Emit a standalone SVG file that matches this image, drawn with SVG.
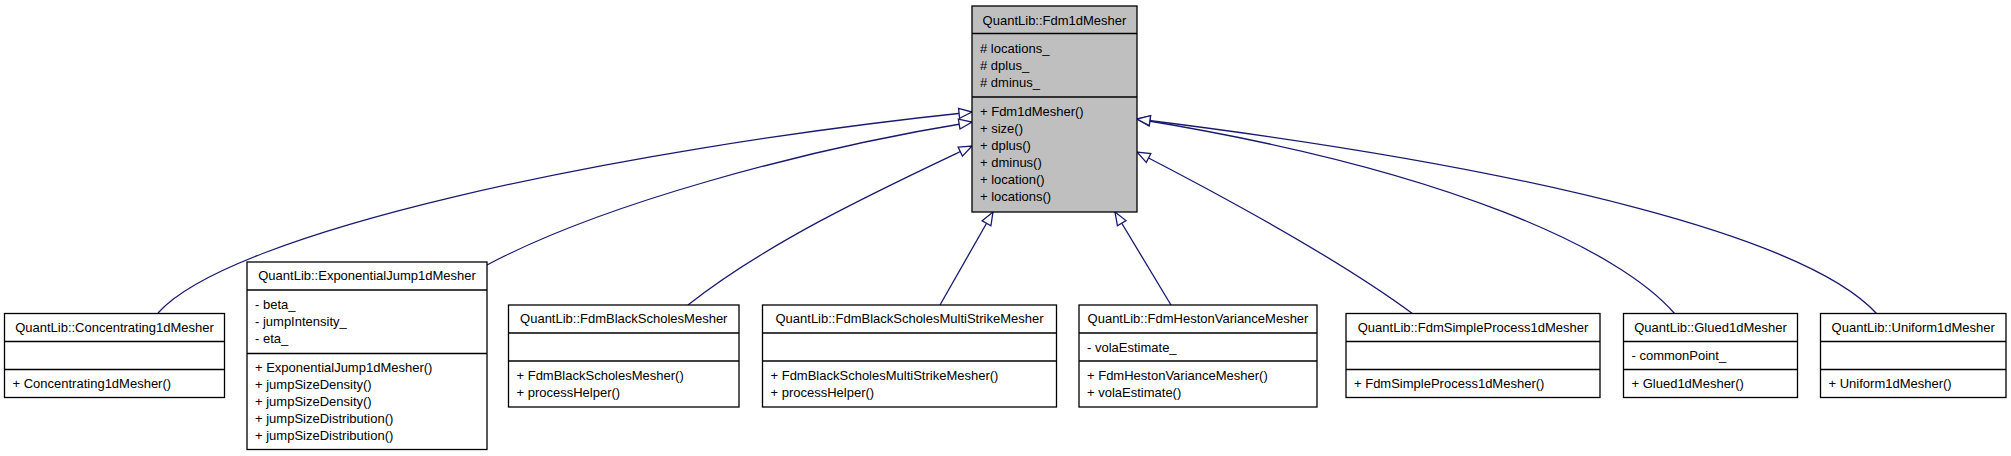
<svg xmlns="http://www.w3.org/2000/svg" width="2011" height="456" viewBox="0 0 2011 456">
<style>
.box{fill:#ffffff;stroke:#000000;stroke-width:1.3}
.base{fill:#bfbfbf;stroke:#000000;stroke-width:1.3}
.sep{stroke:#000000;stroke-width:1.3}
text{font-family:"Liberation Sans",Arial,Helvetica,sans-serif;font-size:13px;fill:#000000}
.t{text-anchor:middle}
.edge{fill:none;stroke:#191970;stroke-width:1.3}
</style>
<defs>
<marker id="inh" markerUnits="userSpaceOnUse" markerWidth="16" markerHeight="14" refX="13" refY="5" orient="auto" overflow="visible">
<path d="M0,0 L13,5 L0,10 Z" fill="#ffffff" stroke="#191970" stroke-width="1.3"/>
</marker>
</defs>
<rect width="2011" height="456" fill="#ffffff"/>
<g id="connectors">
<path class="edge" marker-end="url(#inh)" d="M158,313 C230,232 610,150 972,112"/>
<path class="edge" marker-end="url(#inh)" d="M487,265 C600,205 800,150 972,122"/>
<path class="edge" marker-end="url(#inh)" d="M688,305 C770,240 890,185 972,146"/>
<path class="edge" marker-end="url(#inh)" d="M940,305 L993,212"/>
<path class="edge" marker-end="url(#inh)" d="M1171,305 L1115,212"/>
<path class="edge" marker-end="url(#inh)" d="M1413,314 C1340,260 1230,200 1137,152"/>
<path class="edge" marker-end="url(#inh)" d="M1675,314 C1620,250 1450,170 1137,119"/>
<path class="edge" marker-end="url(#inh)" d="M1877,314 C1810,240 1550,170 1137,119"/>
</g>
<g id="node-Fdm1dMesher">
<rect class="base" x="972" y="6" width="165" height="206"/>
<line class="sep" x1="972" y1="33.5" x2="1137" y2="33.5"/>
<line class="sep" x1="972" y1="97" x2="1137" y2="97"/>
<text class="t" x="1054.5" y="24.5">QuantLib::Fdm1dMesher</text>
<text x="980" y="53">#&#160;locations_</text>
<text x="980" y="70">#&#160;dplus_</text>
<text x="980" y="87">#&#160;dminus_</text>
<text x="980" y="116">+ Fdm1dMesher()</text>
<text x="980" y="133">+ size()</text>
<text x="980" y="150">+ dplus()</text>
<text x="980" y="167">+ dminus()</text>
<text x="980" y="184">+ location()</text>
<text x="980" y="201">+ locations()</text>
</g>
<g id="node-Concentrating1dMesher">
<rect class="box" x="4.5" y="313.5" width="220" height="84"/>
<line class="sep" x1="4.5" y1="341.5" x2="224.5" y2="341.5"/>
<line class="sep" x1="4.5" y1="369.5" x2="224.5" y2="369.5"/>
<text class="t" x="114.5" y="331.5">QuantLib::Concentrating1dMesher</text>
<text x="12.5" y="388">+ Concentrating1dMesher()</text>
</g>
<g id="node-ExponentialJump1dMesher">
<rect class="box" x="247" y="262" width="240" height="187.5"/>
<line class="sep" x1="247" y1="290" x2="487" y2="290"/>
<line class="sep" x1="247" y1="353.5" x2="487" y2="353.5"/>
<text class="t" x="367" y="280">QuantLib::ExponentialJump1dMesher</text>
<text x="255" y="309">- beta_</text>
<text x="255" y="326">- jumpIntensity_</text>
<text x="255" y="343">- eta_</text>
<text x="255" y="372">+ ExponentialJump1dMesher()</text>
<text x="255" y="389">+ jumpSizeDensity()</text>
<text x="255" y="406">+ jumpSizeDensity()</text>
<text x="255" y="423">+ jumpSizeDistribution()</text>
<text x="255" y="440">+ jumpSizeDistribution()</text>
</g>
<g id="node-FdmBlackScholesMesher">
<rect class="box" x="508.5" y="305" width="230.5" height="102"/>
<line class="sep" x1="508.5" y1="333" x2="739" y2="333"/>
<line class="sep" x1="508.5" y1="361" x2="739" y2="361"/>
<text class="t" x="623.75" y="323">QuantLib::FdmBlackScholesMesher</text>
<text x="516.5" y="380">+ FdmBlackScholesMesher()</text>
<text x="516.5" y="397">+ processHelper()</text>
</g>
<g id="node-FdmBlackScholesMultiStrikeMesher">
<rect class="box" x="762.5" y="305" width="294" height="102"/>
<line class="sep" x1="762.5" y1="333" x2="1056.5" y2="333"/>
<line class="sep" x1="762.5" y1="361" x2="1056.5" y2="361"/>
<text class="t" x="909.5" y="323">QuantLib::FdmBlackScholesMultiStrikeMesher</text>
<text x="770.5" y="380">+ FdmBlackScholesMultiStrikeMesher()</text>
<text x="770.5" y="397">+ processHelper()</text>
</g>
<g id="node-FdmHestonVarianceMesher">
<rect class="box" x="1079" y="305" width="238" height="102"/>
<line class="sep" x1="1079" y1="333" x2="1317" y2="333"/>
<line class="sep" x1="1079" y1="361" x2="1317" y2="361"/>
<text class="t" x="1198" y="323">QuantLib::FdmHestonVarianceMesher</text>
<text x="1087" y="352">- volaEstimate_</text>
<text x="1087" y="380">+ FdmHestonVarianceMesher()</text>
<text x="1087" y="397">+ volaEstimate()</text>
</g>
<g id="node-FdmSimpleProcess1dMesher">
<rect class="box" x="1346" y="313.5" width="254" height="84"/>
<line class="sep" x1="1346" y1="341.5" x2="1600" y2="341.5"/>
<line class="sep" x1="1346" y1="369.5" x2="1600" y2="369.5"/>
<text class="t" x="1473" y="331.5">QuantLib::FdmSimpleProcess1dMesher</text>
<text x="1354" y="388">+ FdmSimpleProcess1dMesher()</text>
</g>
<g id="node-Glued1dMesher">
<rect class="box" x="1623.5" y="313.5" width="174" height="84"/>
<line class="sep" x1="1623.5" y1="341.5" x2="1797.5" y2="341.5"/>
<line class="sep" x1="1623.5" y1="369.5" x2="1797.5" y2="369.5"/>
<text class="t" x="1710.5" y="331.5">QuantLib::Glued1dMesher</text>
<text x="1631.5" y="360">- commonPoint_</text>
<text x="1631.5" y="388">+ Glued1dMesher()</text>
</g>
<g id="node-Uniform1dMesher">
<rect class="box" x="1820.5" y="313.5" width="185.5" height="84"/>
<line class="sep" x1="1820.5" y1="341.5" x2="2006" y2="341.5"/>
<line class="sep" x1="1820.5" y1="369.5" x2="2006" y2="369.5"/>
<text class="t" x="1913.25" y="331.5">QuantLib::Uniform1dMesher</text>
<text x="1828.5" y="388">+ Uniform1dMesher()</text>
</g>
</svg>
